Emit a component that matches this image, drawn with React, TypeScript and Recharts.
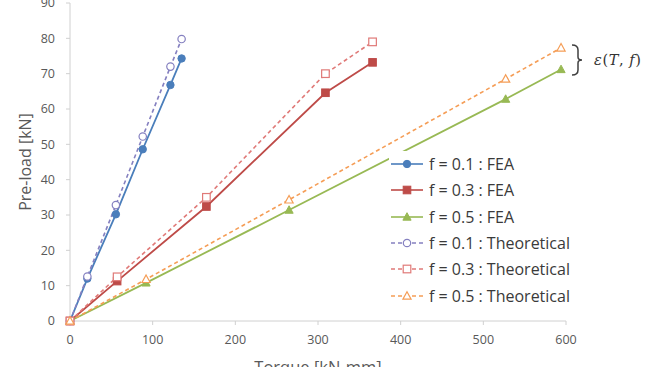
import React from 'react';
import { LineChart, Line, XAxis, YAxis } from 'recharts';

// torque [kN-mm] at each load step, per friction coefficient
const torqueF01 = [0, 21, 55.5, 88, 121.5, 135];
const torqueF03 = [0, 57, 165, 309, 366];
const torqueF05 = [0, 92, 265, 527, 594];

// pre-load [kN]
const feaF01 = [0, 12, 30.2, 48.6, 66.8, 74.3];
const feaF03 = [0, 11.3, 32.4, 64.6, 73.2];
const feaF05 = [0, 10.8, 31.4, 62.8, 71.2];
const theoF01 = [0, 12.6, 32.8, 52.2, 72, 79.8];
const theoF03 = [0, 12.5, 35, 70, 79];
const theoF05 = [0, 11.8, 34.3, 68.5, 77.3];

const xTicks = [0, 100, 200, 300, 400, 500, 600];
const yTicks = [0, 10, 20, 30, 40, 50, 60, 70, 80, 90];

type Shape = 'circle' | 'square' | 'triangle';

interface Series {
  name: string;
  color: string;
  shape: Shape;
  dashed: boolean;
  data: { x: number; y: number }[];
}

const zip = (xs: number[], ys: number[]) => xs.map((x, i) => ({ x, y: ys[i] }));

const SERIES: Series[] = [
  { name: 'f = 0.1 : FEA', color: '#4a7ebb', shape: 'circle', dashed: false, data: zip(torqueF01, feaF01) },
  { name: 'f = 0.3 : FEA', color: '#be4b48', shape: 'square', dashed: false, data: zip(torqueF03, feaF03) },
  { name: 'f = 0.5 : FEA', color: '#98b954', shape: 'triangle', dashed: false, data: zip(torqueF05, feaF05) },
  { name: 'f = 0.1 : Theoretical', color: '#8580c0', shape: 'circle', dashed: true, data: zip(torqueF01, theoF01) },
  { name: 'f = 0.3 : Theoretical', color: '#e07a78', shape: 'square', dashed: true, data: zip(torqueF03, theoF03) },
  { name: 'f = 0.5 : Theoretical', color: '#f59d56', shape: 'triangle', dashed: true, data: zip(torqueF05, theoF05) },
];

const FONT = '"Open Sans", Roboto, sans-serif';
const GREY = '#595959';

function Marker({ cx, cy, shape, color, open }: { cx: number; cy: number; shape: Shape; color: string; open: boolean }) {
  const fill = open ? '#fff' : color;
  const sw = open ? 1.2 : 1;
  if (shape === 'square') {
    return <rect x={cx - 3.8} y={cy - 3.8} width={7.6} height={7.6} fill={fill} stroke={color} strokeWidth={sw} />;
  }
  if (shape === 'triangle') {
    return (
      <polygon
        points={`${cx},${cy - 4.3} ${cx + 4.1},${cy + 3.2} ${cx - 4.1},${cy + 3.2}`}
        fill={fill}
        stroke={color}
        strokeWidth={sw}
      />
    );
  }
  return <circle cx={cx} cy={cy} r={3.7} fill={fill} stroke={color} strokeWidth={sw} />;
}

// legend box sits inside the plot, over the lower right area
function LegendBox() {
  return (
    <div
      style={{
        position: 'absolute',
        left: 389,
        top: 151,
        background: '#fff',
        fontFamily: FONT,
        fontSize: 16,
        color: '#3a3a3a',
        padding: '0 4px 0 2px',
      }}
    >
      {SERIES.map(s => (
        <div key={s.name} style={{ display: 'flex', alignItems: 'center', height: 26.3 }}>
          <svg width={32} height={12} style={{ marginRight: 6 }}>
            <line x1={0} y1={6} x2={32} y2={6} stroke={s.color} strokeWidth={1.6} strokeDasharray={s.dashed ? '4 3' : undefined} />
            <Marker cx={16} cy={6} shape={s.shape} color={s.color} open={s.dashed} />
          </svg>
          <span>{s.name}</span>
        </div>
      ))}
    </div>
  );
}

export default function App() {
  return (
    <div style={{ position: 'absolute', left: 0, top: 0, width: 647, height: 367, background: '#fff' }}>
      <LineChart width={647} height={367} margin={{ top: 3, right: 81, left: 0, bottom: 0 }}>
        <XAxis
          type="number"
          dataKey="x"
          domain={[0, 600]}
          ticks={xTicks}
          interval={0}
          stroke="#d0d0d0"
          tickSize={4}
          tickMargin={10}
          height={46}
          tick={{ fill: GREY, fontSize: 12.5, fontFamily: FONT }}
          label={{ value: 'Torque [kN-mm]', position: 'insideBottom', offset: -6, fill: GREY, fontSize: 16.5, fontFamily: FONT }}
        />
        <YAxis
          type="number"
          dataKey="y"
          domain={[0, 90]}
          ticks={yTicks}
          interval={0}
          width={70}
          stroke="#d0d0d0"
          tickSize={4}
          tickMargin={11}
          tick={{ fill: GREY, fontSize: 12.5, fontFamily: FONT }}
          label={{
            value: 'Pre-load [kN]',
            angle: -90,
            position: 'insideLeft',
            offset: 25,
            fill: GREY,
            fontSize: 16,
            fontFamily: FONT,
            style: { textAnchor: 'middle' },
          }}
        />
        {SERIES.map(s => (
          <Line
            key={s.name}
            data={s.data}
            dataKey="y"
            name={s.name}
            stroke={s.color}
            strokeWidth={s.dashed ? 1.6 : 1.8}
            strokeDasharray={s.dashed ? '4 3' : undefined}
            isAnimationActive={false}
            dot={(p: any) => <Marker key={p.index} cx={p.cx} cy={p.cy} shape={s.shape} color={s.color} open={s.dashed} />}
            activeDot={false}
          />
        ))}
      </LineChart>
      <LegendBox />
      {/* bracket marking the gap between theory and FEA at f = 0.5 */}
      <svg width={647} height={367} style={{ position: 'absolute', left: 0, top: 0, pointerEvents: 'none' }}>
        <path
          d="M572,45 Q578,45 578,50 L578,57 Q578,60 582,60 Q578,60 578,63 L578,70 Q578,75 572,75"
          fill="none"
          stroke="#404040"
          strokeWidth={1.5}
        />
        <text x={594} y={65} fontFamily='"DejaVu Serif", serif' fontSize={14.5} fill="#333" letterSpacing={0.6}>
          <tspan fontStyle="italic">ε</tspan>(<tspan fontStyle="italic">T</tspan>, <tspan fontStyle="italic">f</tspan>)
        </text>
      </svg>
    </div>
  );
}
